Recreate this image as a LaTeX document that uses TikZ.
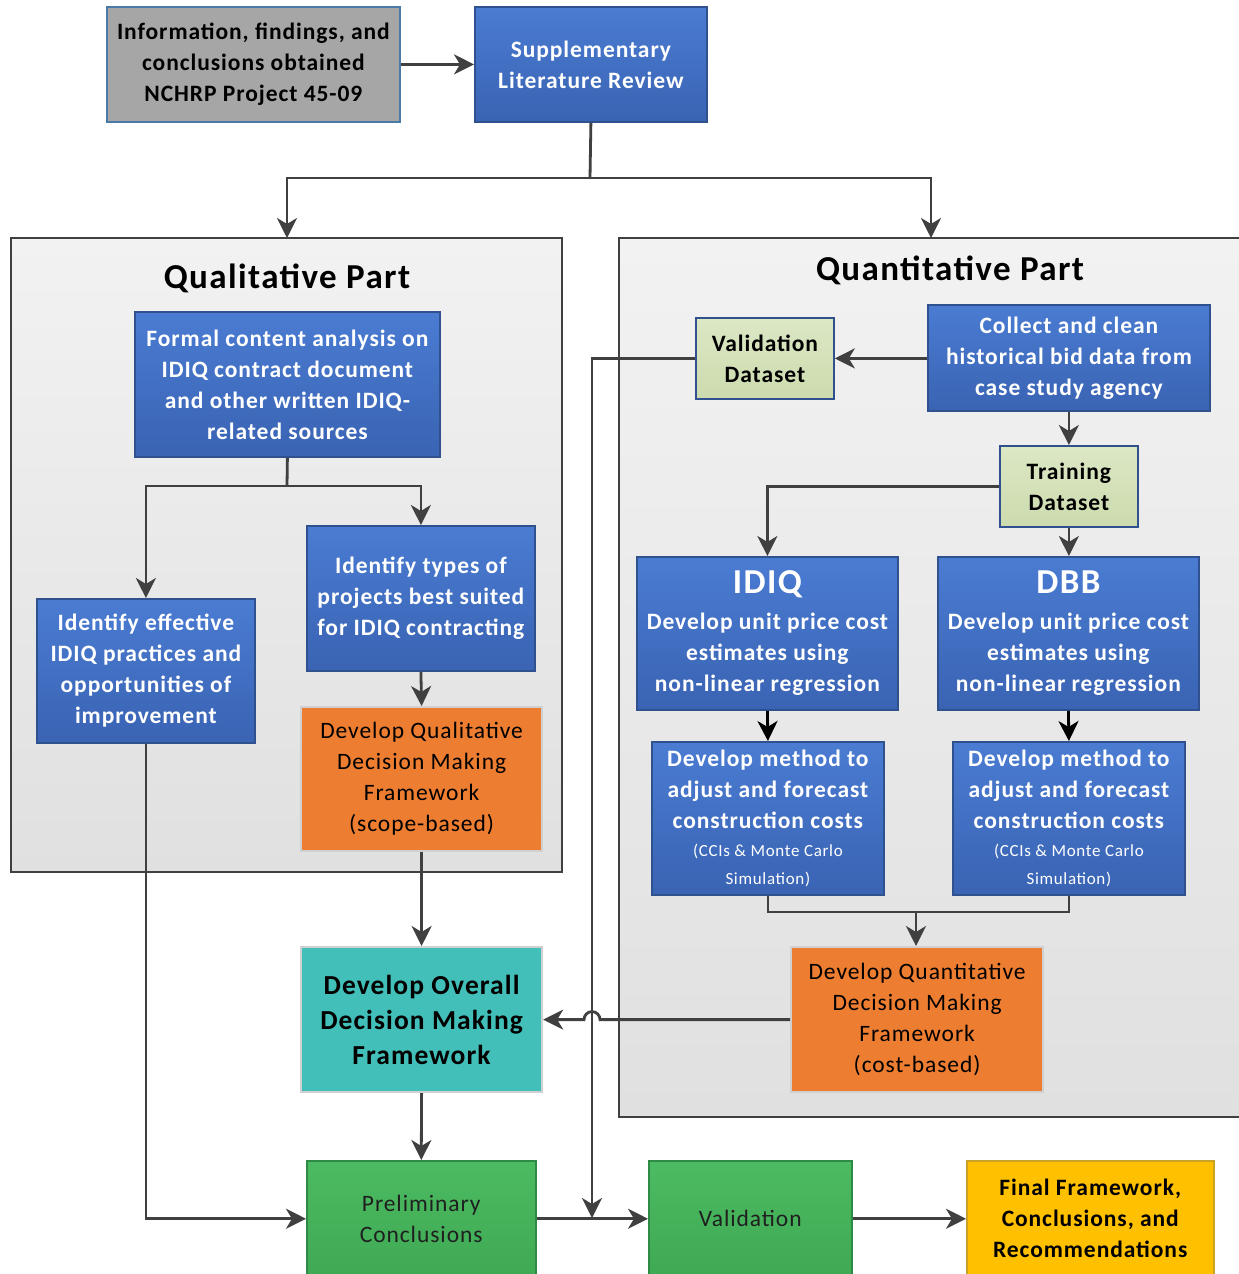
\documentclass[tikz,border=0pt]{standalone}
\usepackage{fontspec}
\setmainfont{Carlito}[LetterSpace=4]
\usetikzlibrary{arrows.meta,calc}
\definecolor{blueT}{HTML}{4A7CD2}
\definecolor{blueB}{HTML}{3A63B3}
\definecolor{blueBd}{HTML}{2F528F}
\definecolor{grayF}{HTML}{A6A6A6}
\definecolor{grayBd}{HTML}{4A7AA8}
\definecolor{contT}{HTML}{F2F2F2}
\definecolor{contB}{HTML}{E0E0E0}
\definecolor{contBd}{HTML}{404040}
\definecolor{orangeF}{HTML}{ED7D31}
\definecolor{lightBd}{HTML}{D0D0D0}
\definecolor{tealF}{HTML}{42BFB8}
\definecolor{greenT}{HTML}{4CBB62}
\definecolor{greenB}{HTML}{3FA953}
\definecolor{greenBd}{HTML}{2E8B45}
\definecolor{yellowF}{HTML}{FFC000}
\definecolor{yellowBd}{HTML}{C9A227}
\definecolor{dsT}{HTML}{DCE7C4}
\definecolor{dsB}{HTML}{CCDBAE}
\definecolor{lineC}{HTML}{404040}
\tikzset{
  box/.style={anchor=north west, inner sep=0pt, align=center,
    font=\bfseries\fontsize{23.5}{31}\selectfont},
  bluebox/.style={box, draw=blueBd, line width=1.8pt, top color=blueT, bottom color=blueB, text=white},
  graybox/.style={box, draw=grayBd, line width=1.8pt, fill=grayF, text=black},
  orangebox/.style={box, draw=lightBd, line width=2.2pt, fill=orangeF, text=black,
    font=\mdseries\fontsize{23.5}{31}\selectfont},
  tealbox/.style={box, draw=lightBd, line width=2.2pt, fill=tealF, text=black,
    font=\bfseries\fontsize{27.5}{35}\selectfont},
  greenbox/.style={box, draw=greenBd, line width=1.5pt, top color=greenT, bottom color=greenB, text=black!88,
    font=\mdseries\fontsize{23.5}{31}\selectfont},
  yellowbox/.style={box, draw=yellowBd, line width=1.5pt, fill=yellowF, text=black},
  dsbox/.style={box, draw=blueBd, line width=1.8pt, top color=dsT, bottom color=dsB, text=black},
  container/.style={draw=contBd, line width=2.2pt, top color=contT, bottom color=contB},
  conn/.style={draw=lineC, line width=2.8pt, -{Stealth[length=20pt,width=20pt,inset=6pt]}},
  plain/.style={draw=lineC, line width=2.8pt},
  title/.style={inner sep=0pt, font=\bfseries\fontsize{35}{40}\selectfont, text=black}
}
\newcommand{\smalltxt}[1]{{\mdseries\fontsize{17}{29}\selectfont #1}}
\begin{document}
\begin{tikzpicture}[x=1pt,y=-1pt]
\useasboundingbox (0,0) rectangle (1239,1274);
\fill[white] (0,0) rectangle (1239,1274);
% containers
\path[container] (11,238) rectangle (562,872);
\path[container] (619,238) rectangle (1250,1117);
\node[title] (qualt) at (287,278) {Qualitative Part};
\node[title] (quant) at (950,270) {Quantitative Part};

% top
\node[graybox, minimum width=293, minimum height=115] (info) at (106,6)
  {Information, findings, and\\conclusions obtained\\NCHRP Project 45-09};
\node[bluebox, minimum width=232, minimum height=115] (supp) at (474,6)
  {Supplementary\\Literature Review};

% qualitative
\node[bluebox, minimum width=305, minimum height=145] (formal) at (134,311)
  {Formal content analysis on\\IDIQ contract document\\and other written IDIQ-\\related sources};
\node[bluebox, minimum width=218, minimum height=144] (ideff) at (36,598)
  {Identify effective\\IDIQ practices and\\opportunities of\\improvement};
\node[bluebox, minimum width=228, minimum height=145] (idtype) at (306,525)
  {Identify types of\\projects best suited\\for IDIQ contracting};
\node[orangebox, minimum width=241, minimum height=144] (qualfw) at (300,706)
  {Develop Qualitative\\Decision Making\\Framework\\(scope-based)};
\node[tealbox, minimum width=241, minimum height=145] (overall) at (300,946)
  {Develop Overall\\Decision Making\\Framework};

% quantitative
\node[bluebox, minimum width=282, minimum height=106] (collect) at (927,304)
  {Collect and clean\\historical bid data from\\case study agency};
\node[dsbox, minimum width=138, minimum height=81] (valds) at (695,317)
  {Validation\\Dataset};
\node[dsbox, minimum width=138, minimum height=81] (trainds) at (999,445)
  {Training\\Dataset};
\node[bluebox, minimum width=261, minimum height=153] (idiq) at (636,556)
  {{\fontsize{35}{40}\selectfont IDIQ}\\[5pt]Develop unit price cost\\estimates using\\non-linear regression};
\node[bluebox, minimum width=261, minimum height=153] (dbb) at (937,556)
  {{\fontsize{35}{40}\selectfont DBB}\\[5pt]Develop unit price cost\\estimates using\\non-linear regression};
\node[bluebox, minimum width=232, minimum height=153] (methA) at (651,741)
  {Develop method to\\adjust and forecast\\construction costs\\[-3pt]\smalltxt{(CCIs \& Monte Carlo}\\[-3pt]\smalltxt{Simulation)}};
\node[bluebox, minimum width=232, minimum height=153] (methB) at (952,741)
  {Develop method to\\adjust and forecast\\construction costs\\[-3pt]\smalltxt{(CCIs \& Monte Carlo}\\[-3pt]\smalltxt{Simulation)}};
\node[orangebox, minimum width=252, minimum height=145] (quantfw) at (790,946)
  {Develop Quantitative\\Decision Making\\Framework\\(cost-based)};

% bottom
\node[greenbox, minimum width=229, minimum height=116] (prelim) at (306,1160)
  {Preliminary\\Conclusions};
\node[greenbox, minimum width=203, minimum height=116] (valid) at (648,1160)
  {Validation};
\node[yellowbox, minimum width=247, minimum height=116] (final) at (966,1160)
  {Final Framework,\\Conclusions, and\\Recommendations};

% coordinates
\coordinate (split) at (590,178);
\coordinate (qualtop) at (287,238);
\coordinate (quanttop) at (931,238);
\coordinate (fsplit) at (287,486);
\coordinate (msplit) at (916,912);
\coordinate (quantfwtop) at (916,946);
\coordinate (vj) at (592,1218);
\coordinate (hop) at (vj |- quantfw.west);

% connectors
\draw[conn] (info.east |- supp.west) -- (supp.west);
\draw[plain] (supp.south) -- (split);
\draw[conn] (split) -| (qualtop);
\draw[conn] (split) -| (quanttop);
\draw[plain] (formal.south) -- (fsplit);
\draw[conn] (fsplit) -| (ideff.north);
\draw[conn] (fsplit) -| (idtype.north);
\draw[conn] (idtype.south) -- (qualfw.north);
\draw[conn] (qualfw.south) -- (overall.north);
\draw[conn] (overall.south) -- (prelim.north);
\draw[conn] (ideff.south) |- (prelim.west);
\draw[conn] (prelim.east) -- (valid.west);
\draw[conn] (valid.east) -- (final.west);

\draw[conn] (collect.west |- valds.east) -- (valds.east);
\draw[conn] (valds.west) -| (vj);
\draw[conn] (collect.south -| trainds.north) -- (trainds.north);
\draw[conn] (trainds.south) -- (trainds.south |- dbb.north);
\draw[conn] (trainds.west) -| (idiq.north);
\draw[conn, draw=black] (idiq.south) -- (methA.north);
\draw[conn, draw=black] (dbb.south) -- (methB.north);
\draw[plain] (methA.south) |- (msplit) -| (methB.south);
\draw[conn] (msplit) -- (quantfwtop);
\draw[conn] (quantfw.west) -- ([xshift=8pt]hop) arc[start angle=0, end angle=180, radius=8pt] -- (overall.east);
\end{tikzpicture}
\end{document}
